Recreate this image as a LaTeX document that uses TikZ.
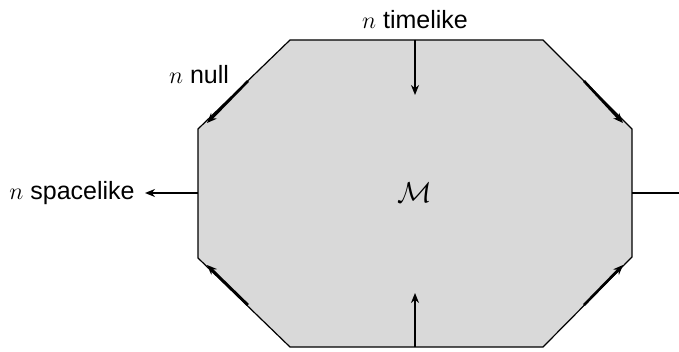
\documentclass[tikz,border=0pt]{standalone}
\usepackage{fontspec}
\setmainfont{Liberation Sans}
\usetikzlibrary{arrows.meta}
\begin{document}
\begin{tikzpicture}[x=0.5pt,y=-0.5pt,
  region/.style={fill=black!15,draw=black,line width=0.6pt,line join=miter},
  normal/.style={line width=1.3pt,-{Stealth[length=5pt,width=4pt]}},
  lbl/.style={font=\fontsize{12.5}{14}\selectfont,inner sep=0pt}]
\useasboundingbox (0,0) rectangle (679,352);
% octagonal region corners
\coordinate (t1) at (290,40);  \coordinate (t2) at (543,40);
\coordinate (r1) at (632,129); \coordinate (r2) at (632,257);
\coordinate (b2) at (543,347); \coordinate (b1) at (290,347);
\coordinate (l2) at (198,258); \coordinate (l1) at (198,129);
\draw[region] (t1) -- (t2) -- (r1) -- (r2) -- (b2) -- (b1) -- (l2) -- (l1) -- cycle;
\node (M) at (415,193) {\fontsize{15}{17}\selectfont$\mathcal{M}$};
% normals on the boundary pieces
\coordinate (tA) at (415,40);  \coordinate (tB) at (415,95);
\coordinate (bA) at (415,347); \coordinate (bB) at (415,293);
\coordinate (lA) at (198,193); \coordinate (lB) at (145,193);
\coordinate (rA) at (632,193); \coordinate (rB) at (679,193);
\coordinate (nlA) at (248,81);  \coordinate (nlB) at (207,123);
\coordinate (nrA) at (584,81);  \coordinate (nrB) at (623,123);
\coordinate (slA) at (248,305); \coordinate (slB) at (207,265);
\coordinate (srA) at (584,305); \coordinate (srB) at (623,265);
\draw[normal] (tA) -- (tB);
\draw[normal] (bA) -- (bB);
\draw[normal] (lA) -- (lB);
\draw[line width=1.3pt] (rA) -- (rB);
\draw[normal] (nlA) -- (nlB);
\draw[normal] (nrA) -- (nrB);
\draw[normal] (slA) -- (slB);
\draw[normal] (srA) -- (srB);
% labels
\node[lbl] (tl) at (415,20) {$n$ timelike};
\node[lbl] (nl) at (199,75) {$n$ null};
\node[lbl,anchor=east] (sl) at (135,193) {$n$ spacelike};
\end{tikzpicture}
\end{document}
